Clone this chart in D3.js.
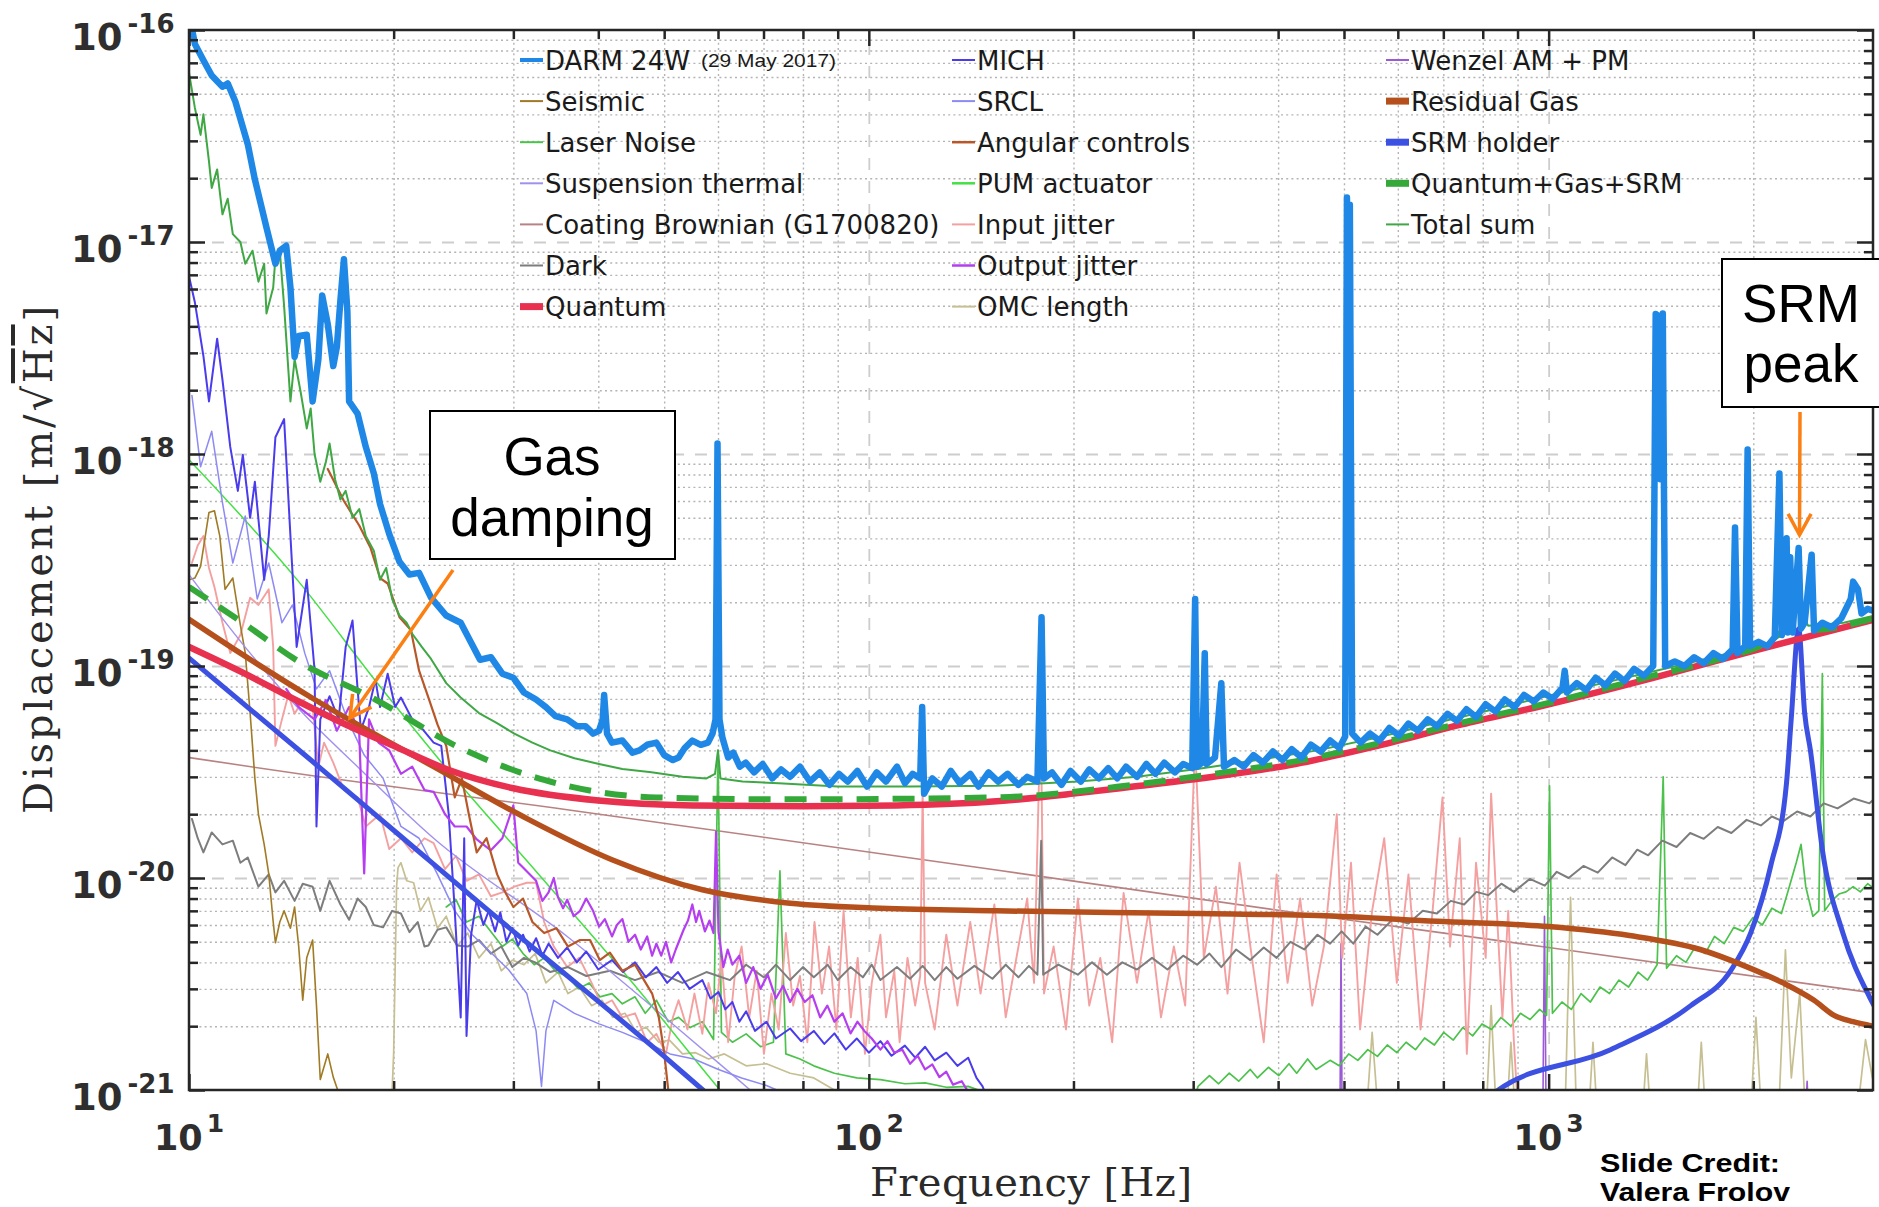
<!DOCTYPE html>
<html><head><meta charset="utf-8">
<script src="https://cdn.jsdelivr.net/npm/d3@7"></script>
<style>
html,body{margin:0;padding:0;background:#fff;}
svg{display:block;}
</style>
</head><body>
<svg id="chart" width="1879" height="1207"></svg>
<script>
// ---------- Noise budget data: [frequency (Hz), displacement (m/sqrt(Hz))] ----------
const darm = [[10.0,1.2e-16],[10.2,8.6e-17],[10.5,7.2e-17],[10.8,6.1e-17],[11.2,5.4e-17],[11.4,5.6e-17],[11.7,4.6e-17],[12.2,2.9e-17],[12.5,1.97e-17],[13.0,1.17e-17],[13.4,7.9e-18],[13.6,9.1e-18],[13.9,9.6e-18],[14.1,6.1e-18],[14.3,2.87e-18],[14.5,3.6e-18],[14.9,3.65e-18],[15.2,1.77e-18],[15.5,2.8e-18],[15.7,5.6e-18],[16.0,4.1e-18],[16.3,2.6e-18],[16.5,3.2e-18],[16.7,5.3e-18],[16.9,8.3e-18],[17.1,4.7e-18],[17.2,1.77e-18],[17.7,1.55e-18],[18.2,1.08e-18],[18.7,8.1e-19],[19.1,5.8e-19],[19.7,4.2e-19],[20.4,3.1e-19],[21.1,2.7e-19],[21.8,2.75e-19],[22.7,2.1e-19],[23.9,1.73e-19],[25.1,1.6e-19],[25.9,1.32e-19],[26.8,1.07e-19],[27.8,1.1e-19],[28.9,9.2e-20],[30.0,8.8e-20],[31.1,7.5e-20],[32.4,6.95e-20],[33.5,6.4e-20],[34.6,5.8e-20],[36.0,5.6e-20],[37.2,5.2e-20],[38.3,5.2e-20],[39.3,4.8e-20],[40.1,4.95e-20],[40.6,5.6e-20],[40.8,7.3e-20],[41.2,4.8e-20],[41.9,4.35e-20],[43.4,4.45e-20],[44.9,3.9e-20],[46.0,4.0e-20],[47.2,4.25e-20],[48.7,4.35e-20],[50.0,3.8e-20],[51.5,3.6e-20],[52.5,3.7e-20],[53.6,4.1e-20],[55.0,4.45e-20],[56.6,4.25e-20],[58.0,4.35e-20],[58.9,4.8e-20],[59.5,5.6e-20],[59.9,1.12e-18],[60.3,5.6e-20],[60.9,4.6e-20],[62.1,3.7e-20],[63.2,3.9e-20],[64.6,3.35e-20],[65.9,3.5e-20],[67.8,3.15e-20],[69.8,3.45e-20],[72.1,2.95e-20],[74.3,3.25e-20],[76.6,3.0e-20],[79.2,3.35e-20],[81.9,2.85e-20],[84.7,3.15e-20],[87.5,2.75e-20],[90.4,3.1e-20],[93.1,2.85e-20],[96.2,3.2e-20],[99.4,2.7e-20],[102.7,3.15e-20],[106,2.85e-20],[110,3.35e-20],[113,2.8e-20],[116,3.1e-20],[119,2.95e-20],[119.8,6.4e-20],[120.6,2.5e-20],[124,2.95e-20],[128,2.7e-20],[132,3.2e-20],[136,2.8e-20],[141,3.1e-20],[145,2.7e-20],[150,3.15e-20],[155,2.85e-20],[160,3.1e-20],[166,2.75e-20],[171,3.0e-20],[177,2.85e-20],[179.5,1.7e-19],[181,2.95e-20],[186,3.15e-20],[192,2.75e-20],[198,3.2e-20],[205,2.85e-20],[211,3.25e-20],[218,2.95e-20],[225,3.3e-20],[232,2.95e-20],[239,3.35e-20],[248,3.0e-20],[256,3.45e-20],[264,3.1e-20],[272,3.5e-20],[282,3.15e-20],[290,3.45e-20],[299,3.3e-20],[302,2.07e-19],[304,3.35e-20],[309,3.5e-20],[312,1.15e-19],[314,3.45e-20],[323,3.7e-20],[330,8.3e-20],[333,3.35e-20],[345,3.6e-20],[356,3.35e-20],[368,3.8e-20],[380,3.5e-20],[393,3.95e-20],[406,3.6e-20],[419,4.05e-20],[433,3.7e-20],[447,4.25e-20],[462,3.95e-20],[477,4.45e-20],[492,4.1e-20],[502,4.65e-20],[505,1.62e-17],[508,1.0e-18],[510,1.5e-17],[514,4.8e-20],[529,4.35e-20],[546,4.8e-20],[564,4.45e-20],[583,5.1e-20],[602,4.7e-20],[622,5.35e-20],[642,4.95e-20],[664,5.6e-20],[685,5.2e-20],[710,5.95e-20],[733,5.5e-20],[757,6.25e-20],[782,5.75e-20],[808,6.6e-20],[835,6.1e-20],[862,6.95e-20],[891,6.4e-20],[920,7.3e-20],[951,6.8e-20],[982,7.5e-20],[1014,7.0e-20],[1048,7.9e-20],[1056,9.5e-20],[1064,7.5e-20],[1100,8.3e-20],[1136,7.7e-20],[1173,8.8e-20],[1212,8.1e-20],[1252,9.2e-20],[1293,8.5e-20],[1336,9.7e-20],[1380,9.0e-20],[1425,1.0e-19],[1437,4.58e-18],[1448,4.5e-18],[1460,7.6e-19],[1472,4.6e-18],[1484,1.0e-19],[1533,1.05e-19],[1584,1.0e-19],[1637,1.1e-19],[1691,1.03e-19],[1747,1.15e-19],[1805,1.08e-19],[1865,1.2e-19],[1880,4.5e-19],[1896,1.15e-19],[1946,1.24e-19],[1962,1.05e-18],[1978,1.24e-19],[2036,1.3e-19],[2097,1.24e-19],[2151,1.37e-19],[2185,8.1e-19],[2203,1.4e-19],[2239,4.0e-19],[2248,1.44e-19],[2266,3.26e-19],[2285,1.44e-19],[2332,3.6e-19],[2351,1.5e-19],[2380,1.6e-19],[2437,3.35e-19],[2457,1.47e-19],[2527,1.6e-19],[2609,1.52e-19],[2695,1.68e-19],[2782,2.07e-19],[2805,2.5e-19],[2851,2.3e-19],[2886,1.77e-19],[2946,1.86e-19],[3010,1.82e-19]];

const quantum = [[10,1.23e-19],[12,9.3e-20],[14.5,6.8e-20],[17,5.3e-20],[20,4.2e-20],[24,3.25e-20],[30,2.65e-20],[40,2.32e-20],[55,2.2e-20],[80,2.18e-20],[110,2.2e-20],[154,2.3e-20],[200,2.5e-20],[245,2.7e-20],[333,3.05e-20],[424,3.45e-20],[560,4.2e-20],[745,5.3e-20],[1000,6.6e-20],[1425,8.8e-20],[1962,1.16e-19],[3000,1.65e-19]];

const quantumGasSrm = [[10,2.36e-19],[12,1.6e-19],[14.5,1.05e-19],[18.8,6.95e-20],[24.7,4.2e-20],[33.3,2.9e-20],[48.7,2.4e-20],[76.6,2.35e-20],[154,2.4e-20],[245,2.75e-20],[333,3.15e-20],[424,3.55e-20],[560,4.3e-20],[745,5.4e-20],[1000,6.7e-20],[1425,9.0e-20],[1819,1.1e-19],[2100,1.3e-19],[2212,1.48e-19],[2290,1.78e-19],[2332,1.92e-19],[2380,1.65e-19],[2450,1.48e-19],[3000,1.68e-19]];

const residualGas = [[10,1.66e-19],[11.9,1.15e-19],[15.3,6.95e-20],[22.9,3.35e-20],[31,1.95e-20],[41.9,1.22e-20],[56.9,8.8e-21],[76.6,7.6e-21],[104,7.2e-21],[154,7.0e-21],[304,6.8e-21],[457,6.65e-21],[685,6.25e-21],[1000,5.9e-21],[1315,5.35e-21],[1671,4.6e-21],[1962,3.8e-21],[2212,3.2e-21],[2457,2.65e-21],[2630,2.25e-21],[2805,2.1e-21],[3000,2.0e-21]];

const srmHolder = [[10,1.09e-19],[15,3.67e-20],[20,1.68e-20],[30,5.6e-21],[40,2.62e-21],[50,1.44e-21],[57,1.0e-21],[65,7.0e-22],[100,2.0e-22],[400,2.0e-22],[700,5.0e-22],[839,9.9e-22],[1233,1.55e-21],[1618,2.5e-21],[1857,3.7e-21],[1982,5.5e-21],[2123,1.15e-20],[2238,2.8e-20],[2274,5.6e-20],[2332,1.5e-19],[2380,6.0e-20],[2427,4.0e-20],[2528,1.35e-20],[2709,5.5e-21],[2964,2.75e-21],[3010,2.5e-21]];

const coatingBrownian = [[10,3.7e-20],[14.5,3.1e-20],[36,2.1e-20],[154,1.09e-20],[393,7.1e-21],[1000,4.7e-21],[3000,2.87e-21]];

const pumActuator = [[10,9.4e-19],[14.5,2.5e-19],[19.1,8e-20],[23.9,3.3e-20],[32.7,1.04e-20],[45.3,3.1e-21],[60.4,1.0e-21],[70.7,5.5e-22]];

const suspensionThermal = [[10,2.7e-19],[12.3,1.15e-19],[14.7,6.0e-20],[17.7,3.35e-20],[22.9,1.54e-20],[36,5.3e-21],[51,2.1e-21],[63.6,1.15e-21],[75,7.3e-22]];

const mich = [[10.0,6.9e-18],[10.2,5.2e-18],[10.5,2.9e-18],[10.7,1.77e-18],[11.0,3.5e-18],[11.2,2.24e-18],[11.5,1.08e-18],[11.8,6.7e-19],[12.0,9.9e-19],[12.3,5.0e-19],[12.5,7.4e-19],[12.9,2.55e-19],[13.1,4.1e-19],[13.4,1.2e-18],[13.8,1.46e-18],[14.1,4.1e-19],[14.4,1.23e-19],[14.9,2.55e-19],[15.3,9.6e-20],[15.4,1.75e-20],[15.6,5.6e-20],[16.1,7.2e-20],[16.6,5.6e-20],[17.0,1.23e-19],[17.4,1.64e-19],[17.7,7.8e-20],[17.9,5.0e-20],[18.4,6.4e-20],[18.8,8.6e-20],[19.1,6.4e-20],[19.6,9.2e-20],[20.1,6.4e-20],[20.5,7.1e-20],[21.3,5.6e-20],[22.1,5.0e-20],[22.9,4.35e-20],[23.5,4.2e-20],[24.1,2.0e-20],[24.6,7.0e-21],[25.1,2.2e-21],[25.4,1.54e-20],[25.6,1.8e-21],[26.0,5.4e-21],[26.5,7.9e-21],[27.1,6.0e-21],[27.6,7.0e-21],[28.2,5.6e-21],[28.7,6.9e-21],[29.3,5.0e-21],[29.9,5.8e-21],[30.5,4.8e-21],[31.0,5.4e-21],[31.7,4.5e-21],[32.4,5.2e-21],[33.1,4.3e-21],[33.8,4.9e-21],[34.9,4.2e-21],[36.0,4.7e-21],[37.2,4.0e-21],[38.4,4.5e-21],[40.0,3.7e-21],[41.9,4.1e-21],[43.5,3.6e-21],[45.3,4.0e-21],[47.0,3.4e-21],[48.7,3.8e-21],[50.5,3.2e-21],[52.4,3.6e-21],[54.5,3.0e-21],[56.9,3.3e-21],[58.5,2.7e-21],[60.1,2.9e-21],[61.5,2.4e-21],[63,2.6e-21],[64.5,2.1e-21],[66,2.35e-21],[68,1.9e-21],[70.7,2.1e-21],[73,1.75e-21],[76.6,1.95e-21],[79.5,1.7e-21],[83,1.9e-21],[86,1.65e-21],[89,1.85e-21],[92.5,1.55e-21],[96,1.75e-21],[100,1.5e-21],[104,1.7e-21],[108,1.45e-21],[113,1.62e-21],[117,1.42e-21],[121,1.6e-21],[125,1.38e-21],[130,1.5e-21],[135,1.3e-21],[140,1.42e-21],[144,1.14e-21],[147,1.04e-21],[150,8.8e-22]];

const srcl = [[10.1,1.89e-18],[10.4,8.7e-19],[10.8,1.28e-18],[11.2,5.9e-19],[11.6,3.06e-19],[12.1,5.1e-19],[12.6,2.07e-19],[13.1,3.06e-19],[13.7,1.6e-19],[14.2,1.94e-19],[14.8,1.15e-19],[15.4,7.8e-20],[16.1,9.5e-20],[17.1,5.6e-20],[18.1,3.8e-20],[19.3,2.95e-20],[20.5,1.75e-20],[21.8,1.54e-20],[23.2,1.04e-20],[24.6,7.0e-21],[26.1,5.4e-21],[27.8,4.45e-21],[29.5,3.7e-21],[31.4,2.85e-21],[32.4,1.9e-21],[33.0,1.04e-21],[33.5,1.9e-21],[34.4,2.65e-21],[36.9,2.3e-21],[40.1,2.05e-21],[43.4,1.87e-21],[47.0,1.68e-21],[51.0,1.48e-21],[55.3,1.4e-21],[60.1,1.25e-21],[65,1.14e-21],[70.7,1.05e-21],[76.6,9.4e-22]];

const outputJitter = [[13.9,7.8e-20],[14.5,6.4e-20],[15.3,5.6e-20],[15.9,6.9e-20],[16.5,4.95e-20],[17.2,6.4e-20],[17.8,4.8e-20],[18.1,1.05e-20],[18.4,5.6e-20],[19.0,4.35e-20],[19.7,4.0e-20],[20.5,3.1e-20],[21.3,3.35e-20],[22.2,2.6e-20],[22.9,2.55e-20],[23.8,2.0e-20],[24.6,1.75e-20],[25.6,1.75e-20],[26.5,1.52e-20],[27.8,1.35e-20],[28.9,1.54e-20],[30.0,2.2e-20],[30.5,1.18e-20],[31.0,1.12e-20],[32.4,9.7e-21],[33.1,7.8e-21],[33.8,8.55e-21],[34.4,1.0e-20],[34.9,8.1e-21],[35.5,7.2e-21],[36.0,7.9e-21],[36.8,6.6e-21],[37.6,7.0e-21],[38.4,8.0e-21],[39.3,7.0e-21],[40.1,5.9e-21],[40.9,6.4e-21],[41.9,5.3e-21],[42.6,6.0e-21],[43.4,6.4e-21],[44.3,5.0e-21],[45.3,5.4e-21],[46.2,4.6e-21],[47.2,5.3e-21],[48.0,4.3e-21],[48.7,4.9e-21],[49.5,4.3e-21],[50.3,5.0e-21],[51.2,4.0e-21],[52.0,4.6e-21],[53.4,5.7e-21],[54.2,6.3e-21],[55.0,7.5e-21],[55.7,6.2e-21],[56.3,7.0e-21],[57.4,5.6e-21],[58.3,6.3e-21],[59.1,5.5e-21],[59.6,1.65e-20],[60.1,5.6e-21],[61.1,3.8e-21],[62.0,4.6e-21],[63.0,3.9e-21],[64.5,4.3e-21],[66.0,3.2e-21],[67.6,3.8e-21],[69.3,3.0e-21],[71.0,3.5e-21],[73.0,2.7e-21],[74.8,3.1e-21],[76.6,2.6e-21],[78.5,3.0e-21],[80.5,2.6e-21],[82.6,2.8e-21],[84.8,2.2e-21],[86.9,2.5e-21],[89,2.1e-21],[91.5,2.3e-21],[94,1.85e-21],[96.2,2.1e-21],[98.5,1.9e-21],[101,1.75e-21],[104,1.55e-21],[106.5,1.7e-21],[109,1.5e-21],[112,1.55e-21],[115,1.33e-21],[118,1.45e-21],[121,1.25e-21],[124,1.32e-21],[127,1.15e-21],[130,1.22e-21],[133,1.06e-21],[137,1.1e-21],[140,9.8e-22],[147,8.2e-22]];

const angularControls = [[16.0,8.5e-19],[16.9,6.0e-19],[17.8,4.6e-19],[18.5,3.6e-19],[19.1,2.6e-19],[19.6,2.45e-19],[20.4,1.7e-19],[21.2,1.48e-19],[21.8,9.5e-20],[22.5,7.1e-20],[23.2,5.3e-20],[23.9,4.2e-20],[24.6,2.4e-20],[25.2,2.95e-20],[25.8,2.0e-20],[26.5,1.32e-20],[27.4,1.54e-20],[28.4,1.04e-20],[29.2,8.55e-21],[30.0,7.3e-21],[31.0,8.0e-21],[32.0,6.2e-21],[33.3,5.5e-21],[34.7,5.8e-21],[36.1,4.75e-21],[37.6,5.1e-21],[38.9,5.1e-21],[40.2,4.1e-21],[41.6,4.45e-21],[43.4,3.65e-21],[45.3,3.9e-21],[46.7,3.3e-21],[48.0,2.85e-21],[49.1,2.2e-21],[50.0,1.5e-21],[51.0,8.4e-22]];

const seismic = [[10.0,2.55e-19],[10.2,2.6e-19],[10.4,2.95e-19],[10.7,5.3e-19],[10.9,5.4e-19],[11.1,4.1e-19],[11.3,2.3e-19],[11.6,2.6e-19],[11.9,1.56e-19],[12.1,1.15e-19],[12.3,6.0e-20],[12.5,2.95e-20],[12.65,2.0e-20],[12.9,1.44e-20],[13.1,1.05e-20],[13.3,6.2e-21],[13.4,4.95e-21],[13.6,6.2e-21],[13.8,7.0e-21],[14.1,5.8e-21],[14.3,7.3e-21],[14.5,4.75e-21],[14.7,2.65e-21],[14.9,4.2e-21],[15.2,5.1e-21],[15.4,2.5e-21],[15.6,1.12e-21],[16.0,1.48e-21],[16.3,1.15e-21],[16.6,9.7e-22],[17.1,6.8e-22]];

const dark = [[10.1,1.9e-20],[10.3,1.54e-20],[10.5,1.32e-20],[10.8,1.64e-20],[11.2,1.44e-20],[11.6,1.5e-20],[11.9,1.18e-20],[12.2,1.25e-20],[12.65,9.1e-21],[13.1,1.04e-20],[13.4,8.55e-21],[13.8,9.7e-21],[14.3,7.8e-21],[14.7,9.4e-21],[15.2,9.1e-21],[15.6,7.0e-21],[16.1,9.7e-21],[16.7,7.5e-21],[17.2,6.35e-21],[17.7,8.0e-21],[18.2,7.3e-21],[18.7,6.0e-21],[19.3,5.85e-21],[19.9,7.0e-21],[20.5,6.8e-21],[21.1,5.55e-21],[21.7,6.2e-21],[22.2,4.75e-21],[22.5,4.8e-21],[23.2,5.7e-21],[23.9,5.85e-21],[24.8,4.8e-21],[25.7,4.75e-21],[26.7,5.1e-21],[27.8,4.4e-21],[28.8,4.75e-21],[29.9,3.8e-21],[31.1,4.2e-21],[32.3,4.0e-21],[34.0,3.6e-21],[36.1,3.8e-21],[38.4,3.45e-21],[41.6,3.65e-21],[45.3,3.3e-21],[49.0,3.6e-21],[53.2,3.2e-21],[57.7,3.6e-21],[62.5,3.3e-21],[66,3.9e-21],[70.1,3.4e-21],[73,3.9e-21],[76.6,3.3e-21],[80,3.8e-21],[83,3.4e-21],[87,3.9e-21],[90,3.3e-21],[94,3.8e-21],[98,3.4e-21],[101,3.9e-21],[104,3.3e-21],[110,3.8e-21],[115,3.35e-21],[120,3.85e-21],[125,3.3e-21],[130,3.8e-21],[135,3.35e-21],[143,3.85e-21],[152,3.35e-21],[159,3.9e-21],[166,3.4e-21],[172,3.85e-21],[177,3.5e-21],[179.3,1.5e-20],[180.5,3.5e-21],[190,3.9e-21],[203,3.5e-21],[213,4.0e-21],[224,3.5e-21],[236,4.0e-21],[248,3.7e-21],[261,4.2e-21],[275,3.7e-21],[290,4.3e-21],[304,3.9e-21],[317,4.4e-21],[330,3.8e-21],[347,4.6e-21],[364,4.1e-21],[381,4.7e-21],[398,4.2e-21],[417,5.0e-21],[437,4.6e-21],[457,5.4e-21],[477,4.9e-21],[496,5.6e-21],[516,4.9e-21],[538,5.9e-21],[560,5.4e-21],[590,6.4e-21],[622,6.1e-21],[653,7.0e-21],[685,6.8e-21],[718,7.8e-21],[751,7.5e-21],[783,8.6e-21],[815,8.3e-21],[852,9.4e-21],[889,8.6e-21],[938,9.9e-21],[987,9.2e-21],[1028,1.07e-20],[1070,1.0e-20],[1125,1.14e-20],[1181,1.06e-20],[1240,1.25e-20],[1297,1.15e-20],[1350,1.36e-20],[1401,1.28e-20],[1470,1.5e-20],[1542,1.4e-20],[1615,1.63e-20],[1691,1.53e-20],[1773,1.74e-20],[1857,1.63e-20],[1955,1.88e-20],[2052,1.77e-20],[2130,1.95e-20],[2212,1.85e-20],[2320,2.06e-20],[2427,1.95e-20],[2540,2.25e-20],[2660,2.13e-20],[2810,2.37e-20],[2964,2.25e-20],[3010,2.35e-20]];

const inputJitter = [[10.1,3.06e-19],[10.3,3.7e-19],[10.5,4.1e-19],[10.7,2.9e-19],[10.9,2.36e-19],[11.2,1.6e-19],[11.5,1.15e-19],[11.9,1.4e-19],[12.3,2.1e-19],[12.65,1.94e-19],[13.1,2.3e-19],[13.3,1.23e-19],[13.4,4.2e-20],[13.7,5.6e-20],[14.0,7.3e-20],[14.3,5.95e-20],[14.7,6.9e-20],[15.2,6.4e-20],[15.5,3.35e-20],[15.8,4.35e-20],[16.3,3.5e-20],[16.9,2.6e-20],[17.7,2.4e-20],[18.2,1.75e-20],[19.1,2.0e-20],[19.7,1.37e-20],[20.5,1.54e-20],[21.3,1.32e-20],[22.2,1.54e-20],[22.9,1.46e-20],[23.8,1.1e-20],[24.7,1.27e-20],[25.6,9.7e-21],[26.7,1.04e-20],[27.8,8.2e-21],[28.9,8.55e-21],[30.1,9.1e-21],[31.4,9.5e-21],[32.4,9.5e-21],[33.3,6.2e-21],[34.4,4.75e-21],[36.0,3.8e-21],[37.5,4.2e-21],[39.1,3.2e-21],[40.5,2.5e-21],[41.9,2.65e-21],[43.4,2.2e-21],[45.3,2.3e-21],[47.2,1.68e-21],[48.7,1.84e-21],[50.3,1.48e-21],[51.5,2.2e-21],[52.5,2.65e-21],[54.1,1.93e-21],[55.4,2.85e-21],[56.9,1.84e-21],[58.1,3.2e-21],[59.6,2.3e-21],[60.7,4.2e-21],[62.1,1.68e-21],[63.5,3.45e-21],[65,4.75e-21],[66.7,2.2e-21],[68.4,3.65e-21],[70.1,1.48e-21],[71.9,2.85e-21],[73.7,1.93e-21],[75.5,5.5e-21],[77.4,2.5e-21],[79.2,3.45e-21],[81.2,1.68e-21],[83.2,6.2e-21],[85.3,2.85e-21],[87.4,4.75e-21],[89.6,1.93e-21],[91.8,7.0e-21],[94.1,2.2e-21],[96.3,4.2e-21],[98.7,1.48e-21],[101,3.2e-21],[104,5.4e-21],[106,2.2e-21],[109,3.65e-21],[111,1.68e-21],[114,4.2e-21],[117,2.5e-21],[119,3.45e-21],[120,2.6e-20],[121,3.2e-21],[125,1.93e-21],[130,5.4e-21],[135,2.5e-21],[141,6.2e-21],[146,2.85e-21],[153,7.5e-21],[159,2.2e-21],[166,4.75e-21],[171,8.0e-21],[175,3.2e-21],[179,6.3e-20],[181,2.85e-21],[187,4.75e-21],[195,1.93e-21],[203,8.0e-21],[211,2.5e-21],[219,4.2e-21],[228,1.68e-21],[237,8.5e-21],[248,3.2e-21],[258,7.0e-21],[269,2.2e-21],[281,4.75e-21],[292,2.5e-21],[302,4.35e-20],[311,4.2e-21],[324,9.1e-21],[337,2.85e-21],[351,1.18e-20],[366,4.2e-21],[381,1.68e-21],[398,1.04e-20],[413,3.2e-21],[431,8.0e-21],[449,2.5e-21],[467,4.75e-21],[488,2.0e-20],[497,4.2e-21],[512,1.18e-20],[528,1.93e-21],[550,7.0e-21],[573,1.54e-20],[598,3.2e-21],[622,1.04e-20],[648,1.93e-21],[675,7.0e-21],[698,2.4e-20],[716,4.75e-21],[740,1.54e-20],[758,1.48e-21],[782,1.18e-20],[808,4.2e-21],[823,2.5e-20],[839,7.0e-21],[855,2.2e-21],[872,7.0e-21],[889,1.68e-21],[900,8.8e-22]];

const omcLength = [[19.8,6.8e-22],[20.0,1.48e-21],[20.2,9.1e-21],[20.3,1.12e-20],[20.5,1.18e-20],[20.9,9.7e-21],[21.4,9.5e-21],[21.9,7.0e-21],[22.5,8.1e-21],[23.2,5.8e-21],[23.9,6.6e-21],[24.8,4.75e-21],[25.7,5.5e-21],[26.7,4.2e-21],[27.8,4.9e-21],[28.8,3.65e-21],[29.9,4.1e-21],[31.1,3.9e-21],[32.3,4.4e-21],[33.5,3.2e-21],[34.9,3.6e-21],[36.1,2.85e-21],[37.5,3.06e-21],[39.1,2.5e-21],[40.5,2.65e-21],[42.0,2.2e-21],[43.8,2.3e-21],[45.5,1.87e-21],[47.0,1.98e-21],[49.1,1.68e-21],[50.9,1.72e-21],[53.2,1.48e-21],[55.6,1.5e-21],[58.1,1.4e-21],[61.3,1.48e-21],[66.0,1.3e-21],[70.7,1.33e-21],[76.6,1.2e-21],[83,1.14e-21],[89,1.0e-21],[94,8.2e-22],[97.4,6.8e-22],[538,6.8e-22],[550,1.87e-21],[563,6.8e-22],[808,6.8e-22],[823,2.5e-21],[839,6.8e-22],[866,6.8e-22],[880,1.68e-21],[895,6.8e-22],[1056,6.8e-22],[1077,8.1e-21],[1100,6.8e-22],[1143,6.8e-22],[1162,1.68e-21],[1181,6.8e-22],[1371,6.8e-22],[1393,1.48e-21],[1416,6.8e-22],[1650,6.8e-22],[1677,1.68e-21],[1705,6.8e-22],[1978,6.8e-22],[2018,2.2e-21],[2060,6.8e-22],[2176,6.8e-22],[2230,4.58e-21],[2275,1.14e-21],[2341,2.87e-21],[2389,6.8e-22],[2832,6.8e-22],[2925,1.73e-21],[2994,1.14e-21]];

const laserNoise = [[23.9,7.3e-21],[24.7,7.9e-21],[25.6,6.2e-21],[26.7,6.6e-21],[27.9,5.5e-21],[28.9,4.75e-21],[29.9,5.15e-21],[31.0,4.4e-21],[32.2,3.9e-21],[33.3,4.2e-21],[34.7,3.6e-21],[36.0,3.45e-21],[37.4,3.0e-21],[38.8,3.2e-21],[40.2,2.75e-21],[41.9,2.85e-21],[43.4,2.55e-21],[45.3,2.75e-21],[46.9,2.3e-21],[48.7,2.65e-21],[50.7,2.1e-21],[52.5,2.2e-21],[54.6,1.97e-21],[56.9,2.1e-21],[59.1,1.73e-21],[60.0,4.0e-20],[60.7,1.87e-21],[63,1.68e-21],[66,1.84e-21],[69.3,1.6e-21],[72.4,1.68e-21],[74,1.08e-20],[75.5,1.48e-21],[79.2,1.4e-21],[83,1.3e-21],[89,1.2e-21],[96,1.14e-21],[104,1.12e-21],[113,1.07e-21],[121,1.08e-21],[130,1.03e-21],[140,1.04e-21],[153,9.4e-22],[203,8.2e-22],[300,8.8e-22],[305,1.04e-21],[317,1.17e-21],[327,1.07e-21],[339,1.2e-21],[350,1.1e-21],[364,1.25e-21],[373,1.14e-21],[387,1.28e-21],[401,1.17e-21],[415,1.33e-21],[426,1.2e-21],[442,1.4e-21],[455,1.25e-21],[477,1.38e-21],[492,1.3e-21],[508,1.48e-21],[524,1.38e-21],[542,1.55e-21],[560,1.44e-21],[579,1.63e-21],[598,1.5e-21],[617,1.68e-21],[637,1.55e-21],[657,1.76e-21],[679,1.63e-21],[701,1.87e-21],[724,1.72e-21],[748,1.97e-21],[773,1.8e-21],[798,2.05e-21],[824,1.93e-21],[851,2.2e-21],[880,2.0e-21],[909,2.3e-21],[939,2.15e-21],[970,2.4e-21],[993,2.25e-21],[1003,2.72e-20],[1013,2.3e-21],[1046,2.6e-21],[1080,2.4e-21],[1116,2.85e-21],[1152,2.6e-21],[1190,3.06e-21],[1229,2.85e-21],[1269,3.3e-21],[1311,3.06e-21],[1354,3.6e-21],[1398,3.3e-21],[1444,3.9e-21],[1474,3.0e-20],[1491,3.75e-21],[1542,4.3e-21],[1592,4.0e-21],[1644,4.75e-21],[1699,4.4e-21],[1754,5.3e-21],[1812,4.9e-21],[1872,5.85e-21],[1933,5.6e-21],[1997,6.5e-21],[2062,6.0e-21],[2130,7.2e-21],[2200,6.8e-21],[2248,8.6e-21],[2313,1.18e-20],[2351,1.44e-20],[2389,9.1e-21],[2447,6.6e-21],[2497,7.0e-21],[2527,9.2e-20],[2547,7.0e-21],[2609,7.8e-21],[2673,8.4e-21],[2738,8.6e-21],[2805,9.1e-21],[2874,8.6e-21],[2946,9.4e-21],[3010,8.9e-21]];

const totalSum = [[10,6.3e-17],[10.2,4.3e-17],[10.4,3.2e-17],[10.5,4.0e-17],[10.7,2.4e-17],[10.8,1.8e-17],[11.0,2.2e-17],[11.2,1.35e-17],[11.4,1.6e-17],[11.6,1.09e-17],[11.9,1.0e-17],[12.1,7.9e-18],[12.4,9.1e-18],[12.65,6.5e-18],[12.9,7.9e-18],[13.0,4.6e-18],[13.3,6.1e-18],[13.4,8.4e-18],[13.6,9.1e-18],[13.8,5.0e-18],[14.1,1.77e-18],[14.3,2.8e-18],[14.6,1.95e-18],[14.9,1.32e-18],[15.1,1.64e-18],[15.3,1.0e-18],[15.6,7.4e-19],[15.9,9.2e-19],[16.1,1.12e-18],[16.4,7.6e-19],[16.7,6.1e-19],[17.0,6.7e-19],[17.4,5.0e-19],[17.8,5.5e-19],[18.2,4.1e-19],[18.7,3.5e-19],[19.1,2.55e-19],[19.5,2.9e-19],[19.9,2.07e-19],[20.4,1.73e-19],[20.9,1.6e-19],[21.3,1.42e-19],[22.0,1.23e-19],[22.7,1.08e-19],[23.9,8.3e-20],[25.1,7.1e-20],[26.7,6.0e-20],[28.3,5.4e-20],[30.1,4.8e-20],[32.0,4.35e-20],[34.0,4.0e-20],[36.9,3.67e-20],[40.1,3.45e-20],[43.4,3.27e-20],[47.9,3.15e-20],[53.2,3.0e-20],[57.7,2.95e-20],[59.4,3.1e-20],[60.0,4.0e-20],[60.5,2.95e-20],[65.2,2.85e-20],[73.7,2.8e-20],[90,2.7e-20],[115,2.7e-20],[154,2.72e-20],[203,2.85e-20],[248,3.0e-20],[304,3.27e-20],[373,3.6e-20],[457,4.0e-20],[560,4.6e-20],[685,5.4e-20],[839,6.3e-20],[1028,7.4e-20],[1259,8.6e-20],[1542,1.0e-19],[1888,1.17e-19],[2130,1.3e-19],[2257,1.58e-19],[2332,1.93e-19],[2408,1.55e-19],[2716,1.6e-19],[3000,1.72e-19]];

const wenzelAmPm = [[90,6e-22],[493,6e-22],[495,4.9e-21],[497,6e-22],[980,6e-22],[986,6.6e-21],[992,6e-22],[2380,6e-22],[2400,1.1e-21],[2420,6e-22],[3000,6e-22]];

// Axis ticks
const yTickExponents = [-16, -17, -18, -19, -20, -21];
const xTickExponents = [1, 2, 3];

// Legend entries, column by column
const legendCol1 = ["DARM 24W", "Seismic", "Laser Noise", "Suspension thermal", "Coating Brownian (G1700820)", "Dark", "Quantum"];
const legendCol2 = ["MICH", "SRCL", "Angular controls", "PUM actuator", "Input jitter", "Output jitter", "OMC length"];
const legendCol3 = ["Wenzel AM + PM", "Residual Gas", "SRM holder", "Quantum+Gas+SRM", "Total sum"];

// ---------- styles ----------
const style = {
  "DARM 24W":            {data: darm,              color: "#1f88e6", w: 6.5, lw: 4,   curve: "lin"},
  "Seismic":             {data: seismic,           color: "#a07a24", w: 1.6, lw: 2,   curve: "lin"},
  "Laser Noise":         {data: laserNoise,        color: "#4cc24c", w: 1.7, lw: 2,   curve: "lin"},
  "Suspension thermal":  {data: suspensionThermal, color: "#a191ee", w: 1.4, lw: 2,   curve: "mono"},
  "Coating Brownian (G1700820)": {data: coatingBrownian, color: "#b98282", w: 1.6, lw: 2, curve: "mono"},
  "Dark":                {data: dark,              color: "#7d7d7d", w: 2,   lw: 2,   curve: "lin"},
  "Quantum":             {data: quantum,           color: "#e8304f", w: 6.5, lw: 7,   curve: "mono"},
  "MICH":                {data: mich,              color: "#4a3cec", w: 2,   lw: 2,   curve: "lin"},
  "SRCL":                {data: srcl,              color: "#8d8af3", w: 1.5, lw: 2,   curve: "lin"},
  "Angular controls":    {data: angularControls,   color: "#b8582a", w: 2.2, lw: 2.5, curve: "lin"},
  "PUM actuator":        {data: pumActuator,       color: "#44e044", w: 1.5, lw: 2.5, curve: "mono"},
  "Input jitter":        {data: inputJitter,       color: "#f4a0a0", w: 1.9, lw: 2,   curve: "lin"},
  "Output jitter":       {data: outputJitter,      color: "#b53ff0", w: 2.2, lw: 2.5, curve: "lin"},
  "OMC length":          {data: omcLength,         color: "#c6bf92", w: 1.7, lw: 2,   curve: "lin"},
  "Wenzel AM + PM":      {data: wenzelAmPm,        color: "#9a5ad6", w: 1.6, lw: 2,   curve: "lin"},
  "Residual Gas":        {data: residualGas,       color: "#b5501c", w: 5.5, lw: 7,   curve: "mono"},
  "SRM holder":          {data: srmHolder,         color: "#3c50e2", w: 5,   lw: 7,   curve: "mono"},
  "Quantum+Gas+SRM":     {data: quantumGasSrm,     color: "#35a83a", w: 6,   lw: 7,   curve: "mono", dash: "22,14"},
  "Total sum":           {data: totalSum,          color: "#3fa845", w: 2,   lw: 2,   curve: "lin"}
};
const drawOrder = ["Coating Brownian (G1700820)", "Wenzel AM + PM", "OMC length", "Laser Noise", "Input jitter", "Dark", "Seismic",
  "PUM actuator", "Suspension thermal", "SRCL", "MICH", "Output jitter", "Angular controls", "Total sum",
  "SRM holder", "Residual Gas", "Quantum", "Quantum+Gas+SRM", "DARM 24W"];

// ---------- layout ----------
const plot = {left: 189, right: 1873, top: 30, bottom: 1090};
const svg = d3.select("#chart");
const x = d3.scaleLog().domain([10, 3000]).range([plot.left, plot.right]);
const y = d3.scaleLog().domain([1e-21, 1e-16]).range([plot.bottom, plot.top]);
const pw = plot.right - plot.left, ph = plot.bottom - plot.top;

svg.append("rect").attr("width", 1879).attr("height", 1207).attr("fill", "#fff");

// ---------- grid ----------
const yMajor = d3.range(-20, -16).map(e => Math.pow(10, e));
const yMinor = [];
for (let e = -21; e < -16; e++) for (let k = 2; k <= 9; k++) yMinor.push(k * Math.pow(10, e));
const xMajor = [100, 1000];
const xMinor = [];
for (let e = 1; e <= 3; e++) for (let k = 2; k <= 9; k++) { const v = k * Math.pow(10, e); if (v < 3000) xMinor.push(v); }

const grid = svg.append("g");
function gridAxis(axis, vals, size, tr, dash, color, width) {
  const g = grid.append("g").attr("transform", tr)
    .call(axis.tickValues(vals).tickSize(size).tickSizeOuter(0).tickFormat(""));
  g.select(".domain").remove();
  g.selectAll("line").attr("stroke", color).attr("stroke-width", width).attr("stroke-dasharray", dash);
}
gridAxis(d3.axisLeft(y), yMinor, -pw, `translate(${plot.left},0)`, "2,3.2", "#b4b4b4", 1.4);
gridAxis(d3.axisBottom(x), xMinor, -ph, `translate(0,${plot.bottom})`, "2,3.2", "#b4b4b4", 1.4);
gridAxis(d3.axisLeft(y), yMajor, -pw, `translate(${plot.left},0)`, "12,11", "#cdcdcd", 1.8);
gridAxis(d3.axisBottom(x), xMajor, -ph, `translate(0,${plot.bottom})`, "12,11", "#cdcdcd", 1.8);

// ---------- series ----------
svg.append("clipPath").attr("id", "plotclip").append("rect")
  .attr("x", plot.left).attr("y", plot.top).attr("width", pw).attr("height", ph);
const series = svg.append("g").attr("clip-path", "url(#plotclip)");
drawOrder.forEach(name => {
  const s = style[name];
  const line = d3.line().x(d => x(d[0])).y(d => y(d[1]))
    .curve(s.curve === "mono" ? d3.curveMonotoneX : d3.curveLinear);
  series.append("path").datum(s.data)
    .attr("d", line).attr("fill", "none")
    .attr("stroke", s.color).attr("stroke-width", s.w)
    .attr("stroke-linejoin", "round").attr("stroke-linecap", s.dash ? "butt" : "round")
    .attr("stroke-dasharray", s.dash || null);
});

// ---------- axes frame & ticks ----------
const axes = svg.append("g");
function tickAxis(axis, vals, size, tr) {
  const g = axes.append("g").attr("transform", tr)
    .call(axis.tickValues(vals).tickSize(size).tickSizeOuter(0).tickFormat(""));
  g.select(".domain").remove();
  g.selectAll("line").attr("stroke", "#262626").attr("stroke-width", 2.5);
}
const yMajAll = yTickExponents.map(e => Math.pow(10, e));
const xMajAll = xTickExponents.map(e => Math.pow(10, e));
tickAxis(d3.axisLeft(y), yMajAll, -16, `translate(${plot.left},0)`);
tickAxis(d3.axisLeft(y), yMinor, -9, `translate(${plot.left},0)`);
tickAxis(d3.axisRight(y), yMajAll, -16, `translate(${plot.right},0)`);
tickAxis(d3.axisRight(y), yMinor, -9, `translate(${plot.right},0)`);
tickAxis(d3.axisBottom(x), xMajAll, -16, `translate(0,${plot.bottom})`);
tickAxis(d3.axisBottom(x), xMinor, -9, `translate(0,${plot.bottom})`);
tickAxis(d3.axisTop(x), xMajAll, -16, `translate(0,${plot.top})`);
tickAxis(d3.axisTop(x), xMinor, -9, `translate(0,${plot.top})`);
axes.append("rect").attr("x", plot.left).attr("y", plot.top).attr("width", pw).attr("height", ph)
  .attr("fill", "none").attr("stroke", "#262626").attr("stroke-width", 2.5);

// tick labels: 10^n
const tickFont = "'DejaVu Sans', sans-serif";
yTickExponents.forEach(e => {
  const t = svg.append("text").attr("x", 71).attr("y", y(Math.pow(10, e)) + 20)
    .attr("font-family", tickFont).attr("font-weight", "bold").attr("fill", "#2e2e2e");
  t.append("tspan").attr("font-size", 37).text("10");
  t.append("tspan").attr("font-size", 26).attr("dx", 5).attr("dy", -17).text(String(e));
});
xTickExponents.forEach(e => {
  const t = svg.append("text").attr("x", x(Math.pow(10, e))).attr("y", 1150).attr("text-anchor", "middle")
    .attr("font-family", tickFont).attr("font-weight", "bold").attr("fill", "#2e2e2e");
  t.append("tspan").attr("font-size", 35).text("10");
  t.append("tspan").attr("font-size", 25).attr("dx", 4).attr("dy", -18).text(String(e));
});

// axis titles
const serif = "'DejaVu Serif', serif";
svg.append("text").attr("x", (plot.left + plot.right) / 2).attr("y", 1196).attr("text-anchor", "middle")
  .attr("font-family", serif).attr("font-size", 40).attr("fill", "#2a2a2a")
  .attr("textLength", 322).attr("lengthAdjust", "spacing").text("Frequency [Hz]");
const yt = svg.append("text").attr("transform", "translate(52,560) rotate(-90)").attr("text-anchor", "middle")
  .attr("font-family", serif).attr("font-size", 40).attr("fill", "#2a2a2a")
  .attr("textLength", 508).attr("lengthAdjust", "spacing");
yt.append("tspan").text("Displacement  [m/\u221A");
yt.append("tspan").attr("text-decoration", "overline").text("Hz");
yt.append("tspan").text("]");

// ---------- legend ----------
const legend = svg.append("g").attr("font-family", "'DejaVu Sans', sans-serif").attr("font-size", 26).attr("fill", "#1a1a1a");
const cols = [{names: legendCol1, x0: 520}, {names: legendCol2, x0: 952}, {names: legendCol3, x0: 1386}];
cols.forEach(c => {
  c.names.forEach((name, i) => {
    const s = style[name];
    const cy = 60 + i * 41.1;
    legend.append("line").attr("x1", c.x0).attr("x2", c.x0 + 23).attr("y1", cy).attr("y2", cy)
      .attr("stroke", s.color).attr("stroke-width", s.lw);
    legend.append("text").attr("x", c.x0 + 25).attr("y", cy + 9.5).text(name);
    if (name === "DARM 24W") {
      legend.append("text").attr("x", 701).attr("y", cy + 7)
        .attr("font-family", "'Liberation Sans Narrow', 'Liberation Sans', sans-serif").attr("font-size", 19)
        .attr("textLength", 135).attr("lengthAdjust", "spacingAndGlyphs").text("(29 May 2017)");
    }
  });
});

// ---------- annotations ----------
const ann = svg.append("g").attr("font-family", "'Liberation Sans', Arial, sans-serif").attr("fill", "#000");
ann.append("rect").attr("x", 430).attr("y", 411).attr("width", 245).attr("height", 148)
  .attr("fill", "#fff").attr("stroke", "#000").attr("stroke-width", 2);
ann.append("text").attr("x", 552).attr("y", 475).attr("text-anchor", "middle").attr("font-size", 53).text("Gas");
ann.append("text").attr("x", 552).attr("y", 536).attr("text-anchor", "middle").attr("font-size", 53).text("damping");

ann.append("rect").attr("x", 1722).attr("y", 259).attr("width", 175).attr("height", 148)
  .attr("fill", "#fff").attr("stroke", "#000").attr("stroke-width", 2);
ann.append("text").attr("x", 1801).attr("y", 322).attr("text-anchor", "middle").attr("font-size", 53).text("SRM");
ann.append("text").attr("x", 1801).attr("y", 382).attr("text-anchor", "middle").attr("font-size", 53).text("peak");

// arrows pointing at features of the spectrum (tips placed in data units)
const orange = "#fb7f12";
function arrow(x0, y0, tipF, tipV) {
  const x1 = x(tipF), y1 = y(tipV);
  const ang = Math.atan2(y1 - y0, x1 - x0);
  const L = 24, spread = 0.5;
  ann.append("line").attr("x1", x0).attr("y1", y0).attr("x2", x1).attr("y2", y1)
    .attr("stroke", orange).attr("stroke-width", 3.5);
  const p = [[x1 - L * Math.cos(ang - spread), y1 - L * Math.sin(ang - spread)], [x1, y1],
             [x1 - L * Math.cos(ang + spread), y1 - L * Math.sin(ang + spread)]];
  ann.append("polyline").attr("points", p.map(d => d.join(",")).join(" "))
    .attr("fill", "none").attr("stroke", orange).attr("stroke-width", 3.5).attr("stroke-linejoin", "miter");
}
arrow(453, 570, 17.25, 5.7e-20);
arrow(1800, 412, 2339, 4.15e-19);

// credit line
const credit = svg.append("g").attr("font-family", "'Liberation Sans', Arial, sans-serif").attr("font-weight", "bold")
  .attr("font-size", 26).attr("fill", "#000");
credit.append("text").attr("x", 1600).attr("y", 1172).attr("textLength", 180).attr("lengthAdjust", "spacingAndGlyphs").text("Slide Credit:");
credit.append("text").attr("x", 1600).attr("y", 1201).attr("textLength", 190).attr("lengthAdjust", "spacingAndGlyphs").text("Valera Frolov");
</script>
</body></html>
